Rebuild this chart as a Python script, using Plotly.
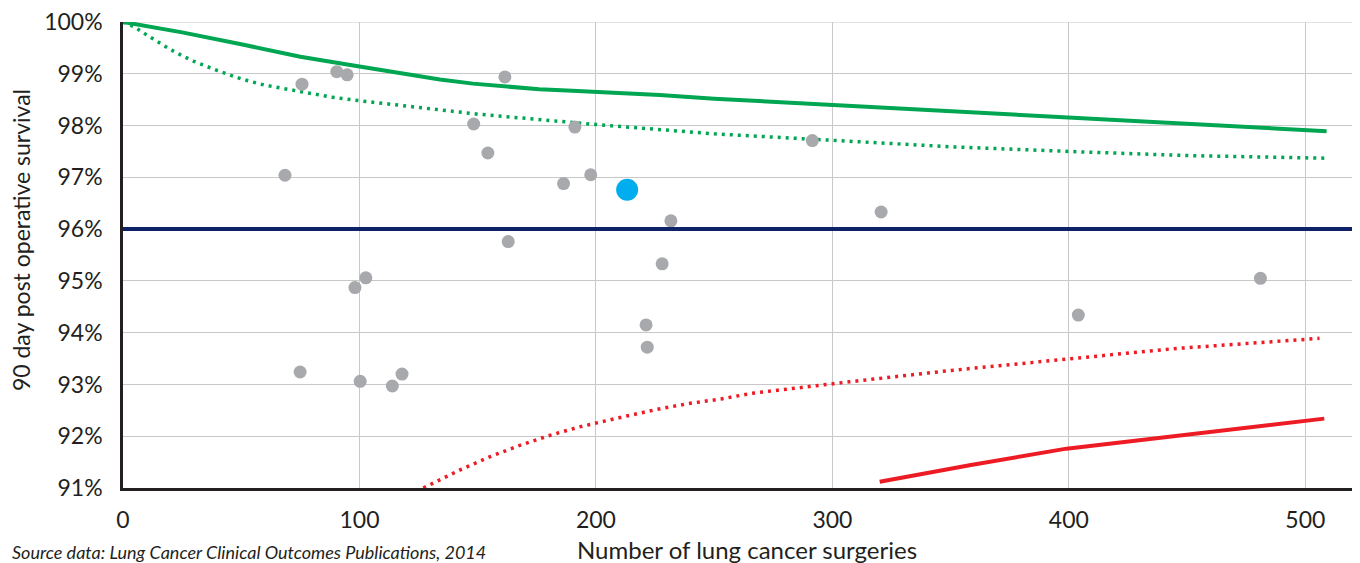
import plotly.graph_objects as go

# hospital results: (number of surgeries, 90 day survival %)
trust_x = [68.5, 74.9, 75.7, 90.4, 94.8, 98.1, 102.7, 100.3, 113.9, 118.0, 148.3, 154.3,
           161.5, 162.9, 186.3, 191.1, 197.8, 231.7, 228.0, 221.2, 221.7, 291.5, 320.6,
           404.0, 481.0]
trust_y = [97.04, 93.24, 98.80, 99.04, 98.98, 94.87, 95.06, 93.06, 92.97, 93.20, 98.03, 97.47,
           98.94, 95.76, 96.88, 97.97, 97.05, 96.16, 95.33, 94.15, 93.72, 97.71, 96.33,
           94.34, 95.05]

highlight_x = [213.2]
highlight_y = [96.76]

national_avg = 96.0

# funnel limits
upper3_x = [0, 25, 50, 75, 100, 120, 134, 148, 162, 176, 190, 205, 227, 250, 300, 400, 509]
upper3_y = [100, 99.80, 99.57, 99.33, 99.14, 98.99, 98.89, 98.81, 98.75, 98.70, 98.67, 98.64,
            98.59, 98.52, 98.40, 98.16, 97.89]

upper2_x = [0, 5, 10, 15, 20, 25, 30, 40, 50, 60, 75, 88, 100, 125, 150, 175, 200, 250, 300,
            350, 400, 450, 508]
upper2_y = [100, 99.90, 99.75, 99.60, 99.47, 99.35, 99.24, 99.06, 98.90, 98.78, 98.65, 98.55,
            98.48, 98.35, 98.22, 98.12, 98.02, 97.84, 97.71, 97.59, 97.50, 97.42, 97.37]

lower2_x = [127, 130, 143, 155, 167, 180, 193, 213, 226, 239, 253, 266, 280, 293, 307, 350,
            400, 444, 506]
lower2_y = [91.0, 91.07, 91.36, 91.60, 91.81, 92.01, 92.18, 92.39, 92.52, 92.63, 92.72, 92.83,
            92.90, 92.97, 93.05, 93.27, 93.50, 93.69, 93.89]

lower3_x = [320, 358, 399, 453, 508]
lower3_y = [91.12, 91.44, 91.76, 92.05, 92.34]

y_ticks = [91, 92, 93, 94, 95, 96, 97, 98, 99, 100]
y_labels = [f"{v}%" for v in y_ticks]
x_ticks = [0, 100, 200, 300, 400, 500]

GREEN = "#00a651"
RED = "#ed1c24"
GRID = "#c8c8c8"
FONT = "Lato"

fig = go.Figure()

# top gridline (plotly drops the one at the range edge)
fig.add_hline(y=y_ticks[-1], line=dict(color=GRID, width=1), layer="below")
fig.add_hline(y=national_avg, line=dict(color="#0f2167", width=4))

fig.add_trace(go.Scatter(x=upper3_x, y=upper3_y, mode="lines",
                         line=dict(color=GREEN, width=4)))
fig.add_trace(go.Scatter(x=upper2_x, y=upper2_y, mode="lines",
                         line=dict(color=GREEN, width=3.5, dash="3px,5px")))
fig.add_trace(go.Scatter(x=lower2_x, y=lower2_y, mode="lines",
                         line=dict(color=RED, width=3.5, dash="3px,5px")))
fig.add_trace(go.Scatter(x=lower3_x, y=lower3_y, mode="lines",
                         line=dict(color=RED, width=4)))

fig.add_trace(go.Scatter(x=trust_x, y=trust_y, mode="markers",
                         marker=dict(color="#a7a9ac", size=13, line=dict(width=0))))
fig.add_trace(go.Scatter(x=highlight_x, y=highlight_y, mode="markers",
                         marker=dict(color="#00aeef", size=22, line=dict(width=0))))

# page body adds 8px, so the figure is 8px smaller than the window
fig.update_layout(
    width=1352, height=555,
    margin=dict(l=115, r=5, t=14, b=75),
    plot_bgcolor="white", paper_bgcolor="white",
    showlegend=False,
    font=dict(family=FONT, size=23, color="#231f20"),
)

fig.update_xaxes(range=[0, 521], tickvals=x_ticks, automargin=False,
                 showgrid=True, gridcolor=GRID, gridwidth=1,
                 zeroline=False, showline=True, linecolor="#231f20", linewidth=2.5,
                 ticks="", ticklabelstandoff=10, ticklabeloverflow="allow")
fig.update_yaxes(range=[91, 100], tickvals=y_ticks, ticktext=y_labels, automargin=False,
                 showgrid=True, gridcolor=GRID, gridwidth=1,
                 zeroline=False, showline=True, linecolor="#231f20", linewidth=2.5,
                 ticks="", ticklabelstandoff=13, ticklabeloverflow="allow")

fig.add_annotation(text="90 day post operative survival", textangle=-90,
                   xref="paper", yref="paper", x=-0.0828, y=0.532,
                   xanchor="center", yanchor="middle",
                   showarrow=False, font=dict(size=23))
fig.add_annotation(text="Number of lung cancer surgeries",
                   xref="paper", yref="paper", x=0.5065, y=-0.133,
                   xanchor="center", yanchor="middle",
                   showarrow=False, font=dict(size=24))
fig.add_annotation(text="Source data: Lung Cancer Clinical Outcomes Publications, 2014",
                   xref="paper", yref="paper", x=-0.0917, y=-0.137,
                   xanchor="left", yanchor="middle",
                   showarrow=False, font=dict(size=18, style="italic"))

fig.write_html("out.html")
